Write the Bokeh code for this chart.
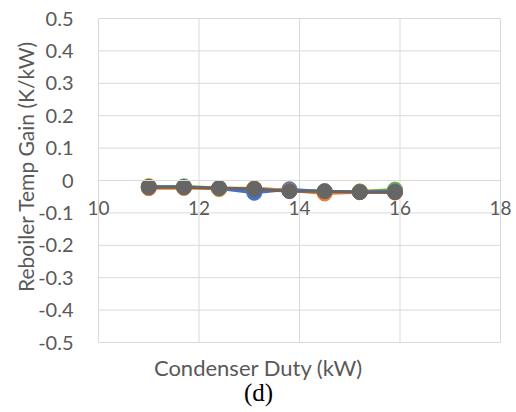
import math
from bokeh.plotting import figure
from bokeh.models import Range1d, FixedTicker, Label, LinearAxis
from bokeh.embed import file_html
from bokeh.resources import INLINE

# Condenser duty (kW) sampled for each run
duty = [11.0, 11.7, 12.4, 13.1, 13.8, 14.5, 15.2, 15.9]

# Reboiler temperature gain (K/kW) for each series
gain_yellow = [-0.017, -0.021, -0.027, -0.027, -0.031, -0.034, -0.034, -0.033]
gain_green = [-0.020, -0.018, -0.024, -0.025, -0.030, -0.033, -0.034, -0.028]
gain_blue = [-0.019, -0.020, -0.025, -0.038, -0.027, -0.035, -0.035, -0.034]
gain_orange = [-0.024, -0.023, -0.024, -0.024, -0.031, -0.040, -0.036, -0.037]
gain_grey = [-0.021, -0.021, -0.023, -0.026, -0.033, -0.033, -0.036, -0.036]

x_ticks = [10, 12, 14, 16, 18]
y_ticks = [-0.5, -0.4, -0.3, -0.2, -0.1, 0, 0.1, 0.2, 0.3, 0.4, 0.5]
y_tick_text = {-0.5: "-0.5", -0.4: "-0.4", -0.3: "-0.3", -0.2: "-0.2", -0.1: "-0.1",
               0: "0", 0.1: "0.1", 0.2: "0.2", 0.3: "0.3", 0.4: "0.4", 0.5: "0.5"}

FONT = "Lato"
TEXT_GREY = "#595959"
GRID = "#d9d9d9"
W, H = 516, 412

# the plotting area occupies pixels 98..500 horizontally and 18..342 vertically;
# the frame covers the whole canvas so axes can cross inside it
xmin, xmax = x_ticks[0], x_ticks[-1]
ymin, ymax = y_ticks[0], y_ticks[-1]
sx = (500 - 98) / (xmax - xmin)
sy = (342 - 18) / (ymax - ymin)
x_range = Range1d(xmin - 98 / sx, xmax + (W - 500) / sx)
y_range = Range1d(ymin - (H - 342) / sy, ymax + 18 / sy)

p = figure(width=W, height=H, output_backend="svg", toolbar_location=None,
           x_range=x_range, y_range=y_range,
           x_axis_type=None, y_axis_type=None, min_border=0)
p.min_border_left = p.min_border_right = p.min_border_top = p.min_border_bottom = 0
p.background_fill_color = "white"
p.border_fill_color = "white"
p.outline_line_color = None
p.grid.visible = False

# grid lines of the plotting area
p.segment(x0=x_ticks, y0=[ymin] * len(x_ticks), x1=x_ticks, y1=[ymax] * len(x_ticks),
          line_color=GRID, line_width=1)
p.segment(x0=[xmin] * len(y_ticks), y0=y_ticks, x1=[xmax] * len(y_ticks), y1=y_ticks,
          line_color=GRID, line_width=1)

# value axis along the left edge
ya = LinearAxis(fixed_location=xmin, bounds=(ymin, ymax),
                ticker=FixedTicker(ticks=y_ticks))
ya.major_label_overrides = y_tick_text
ya.axis_line_color = None
ya.major_tick_line_color = None
ya.minor_tick_line_color = None
ya.major_label_text_font = FONT
ya.major_label_text_font_size = "20px"
ya.major_label_text_color = TEXT_GREY
ya.major_label_standoff = 19
p.add_layout(ya, "left")

# duty axis crossing at zero
xa = LinearAxis(fixed_location=0, bounds=(xmin, xmax),
                ticker=FixedTicker(ticks=x_ticks))
xa.axis_line_color = GRID
xa.major_tick_line_color = None
xa.minor_tick_line_color = None
xa.major_label_text_font = FONT
xa.major_label_text_font_size = "19px"
xa.major_label_text_color = TEXT_GREY
xa.major_label_standoff = 14
p.add_layout(xa, "below")

series = [
    (gain_yellow, "#FFC000"),
    (gain_green, "#70AD47"),
    (gain_blue, "#4472C4"),
    (gain_orange, "#ED7D31"),
    (gain_grey, "#666666"),
]
for ys, c in series:
    p.line(duty, ys, line_color=c, line_width=3)
    p.scatter(duty, ys, size=15, fill_color=c, line_color=c)

p.add_layout(Label(x=25, y=H - 166, x_units="screen", y_units="screen",
                   text="Reboiler Temp Gain (K/kW)", angle=math.pi / 2,
                   text_align="center", text_baseline="middle", text_font=FONT,
                   text_font_size="21px", text_color=TEXT_GREY))
p.add_layout(Label(x=258, y=H - 367, x_units="screen", y_units="screen",
                   text="Condenser Duty (kW)", text_align="center",
                   text_baseline="middle", text_font=FONT,
                   text_font_size="22px", text_color=TEXT_GREY))
p.add_layout(Label(x=258, y=H - 392, x_units="screen", y_units="screen",
                   text="(d)", text_align="center", text_baseline="middle",
                   text_font="Liberation Serif", text_font_size="25px",
                   text_color="#000000"))

open("out.html", "w").write(file_html(p, INLINE))
